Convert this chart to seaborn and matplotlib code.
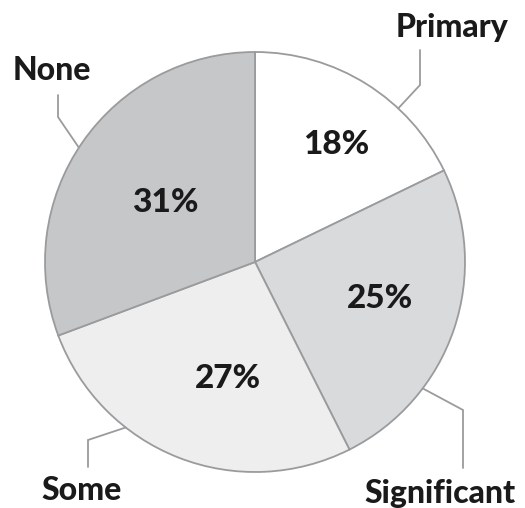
import numpy as np
import matplotlib
matplotlib.use("Agg")
import matplotlib.pyplot as plt
import seaborn as sns

categories = ["Primary", "Significant", "Some", "None"]
shares = [18, 25, 27, 31]
pct_labels = ["18%", "25%", "27%", "31%"]

sns.set_theme(style="white")
plt.rcParams['font.family'] = ['Lato', 'DejaVu Sans']

colors = ["#ffffff", "#d9dadc", "#eeeeef", "#c6c7c9"]
edge = "#9a9b9d"

fig = plt.figure(figsize=(5.25, 5.08), dpi=100)
ax = fig.add_axes([0, 0, 1, 1])

cx, cy, r = 255, 246, 210
wedges, texts = ax.pie(shares, colors=colors, startangle=90, counterclock=False,
                       center=(cx, cy), radius=r, frame=True,
                       wedgeprops=dict(edgecolor=edge, linewidth=1.3))
ax.set_xlim(0, 525)
ax.set_ylim(0, 508)
ax.set_aspect("equal")
ax.axis("off")

# percent labels inside each wedge
pct_pos = [(336, 363), (380, 209), (228, 130), (165, 306)]
for (x, y), t in zip(pct_pos, pct_labels):
    ax.text(x, y, t, ha="center", va="center", fontsize=24, fontweight="black", color="#1a1a1a")

# leader lines: angle on rim, elbow point, end point, label anchor
leaders = {
    "Primary": (47, (420, 423), (420, 458), (452, 481)),
    "Significant": (-37, (463, 98), (463, 40), (440, 14)),
    "Some": (-128, (88, 68), (88, 41), (82, 17)),
    "None": (147, (58, 391), (58, 413), (52, 438)),
}
for name in categories:
    ang, elbow, end, lab = leaders[name]
    a = np.deg2rad(ang)
    rim = (cx + r * np.cos(a), cy + r * np.sin(a))
    ax.plot([rim[0], elbow[0], end[0]], [rim[1], elbow[1], end[1]],
            color=edge, linewidth=1.3, solid_joinstyle="miter")
    ax.text(lab[0], lab[1], name, ha="center", va="center", fontsize=23,
            fontweight="black", color="#1a1a1a")

fig.savefig("out.png", dpi=100, facecolor="white")
